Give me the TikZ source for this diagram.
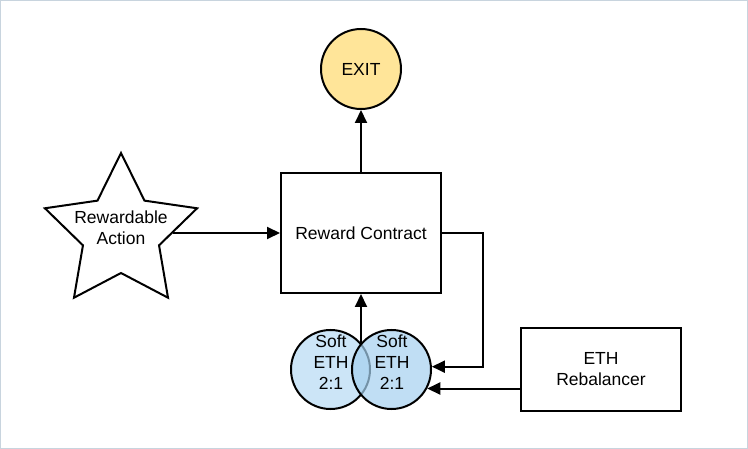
\documentclass[tikz,border=0pt]{standalone}
\usepackage{fontspec}
\setmainfont{Liberation Sans}
\usepackage{tikz}
\usetikzlibrary{arrows.meta,shapes.geometric}

\definecolor{exitfill}{RGB}{255,229,153}
\definecolor{softfill}{RGB}{165,208,239}
\definecolor{softfillL}{RGB}{204,229,247}
\definecolor{frame}{RGB}{200,212,222}

\begin{document}
\begin{tikzpicture}[x=1pt,y=-1pt,
        font=\fontsize{17.5}{21}\selectfont,
        thick line/.style={line width=2pt},
        box/.style={draw, thick line, rectangle, fill=white},
        arr/.style={thick line, -{Triangle[length=13pt,width=12pt]}}]
        \useasboundingbox (0,0) rectangle (748,449);
        \draw[frame, line width=1pt] (0.5,0.5) rectangle (747.5,448.5); % outer frame

        \node[draw, thick line, circle, fill=exitfill, minimum size=80pt, inner sep=0pt] (exit) at (361,69) {EXIT};
        \node[box, minimum width=160pt, minimum height=120pt] (reward) at (361,233) {Reward Contract};
        \node[draw, thick line, star, star points=5, star point ratio=2, minimum size=160pt, inner sep=0pt] (action) at (121,233) {};
        \node[align=center] (actiontext) at (121,228) {Rewardable\\Action};
        \node[box, minimum width=160pt, minimum height=83pt, align=center] (rebal) at (601,369.5) {ETH\\Rebalancer};

        % the two soft circles
        \node[draw, thick line, circle, fill=softfillL, minimum size=79pt, inner sep=0pt] (softL) at (330.5,369.5) {};
        \node[draw, thick line, circle, fill=softfill, fill opacity=0.7, minimum size=79pt, inner sep=0pt] (softR) at (391.5,369.5) {};
        \node[align=center] (softLtext) at (331,362) {Soft\\ETH\\2:1};
        \node[align=center] (softRtext) at (392,362) {Soft\\ETH\\2:1};
        \coordinate (meet) at (361,344);

        \draw[arr] (reward) -- (exit);
        \draw[arr] (action) -- (reward);
        \draw[arr] (meet) -- (reward.south);
        \draw[arr] (reward.east) -- ++(41,0) |- (softR.4);
        \draw[arr] (rebal.west |- softR.-28) -- (softR.-28);
    \end{tikzpicture}
\end{document}
